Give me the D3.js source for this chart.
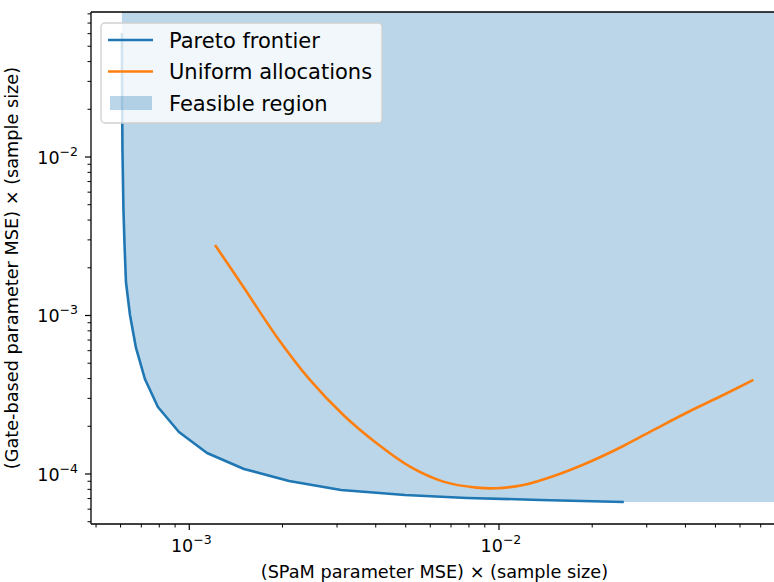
<!DOCTYPE html>
<html>
<head>
<meta charset="utf-8">
<script src="https://cdn.jsdelivr.net/npm/d3@7"></script>
<style>
  body { margin: 0; background: #fff; }
  text { font-family: "DejaVu Sans", sans-serif; fill: #000; }
</style>
</head>
<body>
<div id="chart"></div>
<script>
// Pareto frontier (SPaM MSE, gate-based MSE), both times sample size
const frontierX = [6.06e-4, 6.07e-4, 6.085e-4, 6.13e-4, 6.18e-4, 6.245e-4, 6.435e-4, 6.73e-4, 7.19e-4, 7.92e-4,
                   9.26e-4, 1.141e-3, 1.502e-3, 2.10e-3, 3.09e-3, 4.97e-3, 7.88e-3, 1.357e-2, 2.53e-2];
const frontierY = [0.0606, 0.0229, 0.01107, 4.63e-3, 2.785e-3, 1.627e-3, 1.007e-3, 6.24e-4, 3.975e-4, 2.647e-4,
                   1.841e-4, 1.357e-4, 1.075e-4, 9.03e-5, 7.93e-5, 7.37e-5, 7.06e-5, 6.86e-5, 6.66e-5];

// Uniform allocations
const uniformX = [1.211e-3, 1.494e-3, 1.915e-3, 2.453e-3, 3.144e-3, 4.028e-3, 5.16e-3, 6.61e-3, 8.47e-3,
                  9.83e-3, 1.198e-2, 1.536e-2, 1.967e-2, 2.52e-2, 3.23e-2, 4.14e-2, 5.30e-2, 6.63e-2];
const uniformY = [2.785e-3, 1.519e-3, 7.35e-4, 3.92e-4, 2.356e-4, 1.562e-4, 1.112e-4, 8.95e-5, 8.20e-5,
                  8.13e-5, 8.52e-5, 9.86e-5, 1.195e-4, 1.502e-4, 1.942e-4, 2.497e-4, 3.15e-4, 3.92e-4];

const xDomain = [4.816e-4, 0.0796];
const yDomain = [4.836e-5, 0.0822];
const xMajor = [1e-3, 1e-2];
const yMajor = [1e-4, 1e-3, 1e-2];
const legendLabels = ["Pareto frontier", "Uniform allocations", "Feasible region"];

const blue = "#1f77b4";
const orange = "#ff7f0e";

const width = 774;
const height = 582;
const margin = {top: 12, right: -4, bottom: 58, left: 91};
const plotW = width - margin.left - margin.right;
const plotH = height - margin.top - margin.bottom;

const svg = d3.select("#chart")
  .append("svg")
  .attr("width", width)
  .attr("height", height);

const g = svg.append("g")
  .attr("transform", `translate(${margin.left}, ${margin.top})`);

const xScale = d3.scaleLog().domain(xDomain).range([0, plotW]);
const yScale = d3.scaleLog().domain(yDomain).range([plotH, 0]);

g.append("clipPath").attr("id", "clip")
  .append("rect").attr("width", plotW).attr("height", plotH);

const plot = g.append("g").attr("clip-path", "url(#clip)");

// feasible region: everything above / right of the frontier
const frontier = frontierX.map((x, i) => [x, frontierY[i]]);
const last = frontier[frontier.length - 1];
const region = frontier.concat([[1, last[1]], [1, 10], [frontierX[0], 10]]);

plot.append("path")
  .attr("d", d3.line().x(d => xScale(d[0])).y(d => yScale(d[1]))(region) + "Z")
  .attr("fill", blue)
  .attr("fill-opacity", 0.3);

plot.append("path")
  .attr("d", d3.line().x(d => xScale(d[0])).y(d => yScale(d[1]))(frontier))
  .attr("fill", "none")
  .attr("stroke", blue)
  .attr("stroke-width", 2.6)
  .attr("stroke-linejoin", "round");

const uniform = uniformX.map((x, i) => [x, uniformY[i]]);
plot.append("path")
  .attr("d", d3.line().curve(d3.curveCatmullRom.alpha(0.5)).x(d => xScale(d[0])).y(d => yScale(d[1]))(uniform))
  .attr("fill", "none")
  .attr("stroke", orange)
  .attr("stroke-width", 2.6);

// minor ticks: 2..9 x 10^k
function minorTicks(domain) {
  const out = [];
  for (let k = -6; k <= 0; k++) {
    for (let m = 2; m <= 9; m++) {
      const v = m * Math.pow(10, k);
      if (v >= domain[0] && v <= domain[1]) out.push(v);
    }
  }
  return out;
}

function powLabel(sel, v) {
  const e = Math.round(Math.log10(v));
  sel.append("tspan").text("10");
  sel.append("tspan").attr("dy", -8).attr("font-size", 12.5).text("\u2212" + Math.abs(e));
}

// x axis
const xAxisG = g.append("g").attr("transform", `translate(0, ${plotH})`);
xAxisG.append("line").attr("x1", 0).attr("x2", plotW).attr("stroke", "#000").attr("stroke-width", 1.3);
xAxisG.selectAll(".xminor").data(minorTicks(xDomain)).enter().append("line")
  .attr("x1", d => xScale(d)).attr("x2", d => xScale(d))
  .attr("y1", 0).attr("y2", 3.5)
  .attr("stroke", "#000").attr("stroke-width", 1);
xAxisG.selectAll(".xmajor").data(xMajor).enter().append("line")
  .attr("x1", d => xScale(d)).attr("x2", d => xScale(d))
  .attr("y1", 0).attr("y2", 6)
  .attr("stroke", "#000").attr("stroke-width", 1.2);
xAxisG.selectAll(".xlabel").data(xMajor).enter().append("text")
  .attr("x", d => xScale(d) + 2)
  .attr("y", 28)
  .attr("text-anchor", "middle")
  .attr("font-size", 17.5)
  .each(function(d) { powLabel(d3.select(this), d); });

g.append("text")
  .attr("x", (xScale(xDomain[0]) + xScale(0.0772)) / 2 + 2)
  .attr("y", plotH + 54)
  .attr("text-anchor", "middle")
  .attr("font-size", 17.7)
  .text("(SPaM parameter MSE) \u00d7 (sample size)");

// y axis
const yAxisG = g.append("g");
yAxisG.append("line").attr("y1", 0).attr("y2", plotH).attr("stroke", "#000").attr("stroke-width", 1.3);
yAxisG.selectAll(".yminor").data(minorTicks(yDomain)).enter().append("line")
  .attr("y1", d => yScale(d)).attr("y2", d => yScale(d))
  .attr("x1", 0).attr("x2", -3.5)
  .attr("stroke", "#000").attr("stroke-width", 1);
yAxisG.selectAll(".ymajor").data(yMajor).enter().append("line")
  .attr("y1", d => yScale(d)).attr("y2", d => yScale(d))
  .attr("x1", 0).attr("x2", -6)
  .attr("stroke", "#000").attr("stroke-width", 1.2);
yAxisG.selectAll(".ylabel").data(yMajor).enter().append("text")
  .attr("x", -13)
  .attr("y", d => yScale(d) + 7)
  .attr("text-anchor", "end")
  .attr("font-size", 17.5)
  .each(function(d) { powLabel(d3.select(this), d); });

g.append("text")
  .attr("transform", `translate(${-73}, ${plotH / 2}) rotate(-90)`)
  .attr("text-anchor", "middle")
  .attr("font-size", 17.7)
  .text("(Gate-based parameter MSE) \u00d7 (sample size)");

// top spine
g.append("line").attr("x1", 0).attr("x2", plotW).attr("y1", 0).attr("y2", 0)
  .attr("stroke", "#000").attr("stroke-width", 1.3);

// legend
const legend = g.append("g").attr("transform", "translate(10, 11)");
legend.append("rect")
  .attr("width", 281).attr("height", 100)
  .attr("rx", 4)
  .attr("fill", "#fff").attr("fill-opacity", 0.8)
  .attr("stroke", "#d0d0d0").attr("stroke-width", 1.3);

legendLabels.forEach((lab, i) => {
  const y = 17 + i * 31.5;
  if (i < 2) {
    legend.append("line")
      .attr("x1", 7).attr("x2", 52).attr("y1", y).attr("y2", y)
      .attr("stroke", i === 0 ? blue : orange).attr("stroke-width", 2.6);
  } else {
    legend.append("rect")
      .attr("x", 9).attr("y", y - 7).attr("width", 42).attr("height", 14)
      .attr("fill", blue).attr("fill-opacity", 0.3);
  }
  legend.append("text")
    .attr("x", 68).attr("y", y + 7.7)
    .attr("font-size", 21)
    .text(lab);
});
</script>
</body>
</html>
